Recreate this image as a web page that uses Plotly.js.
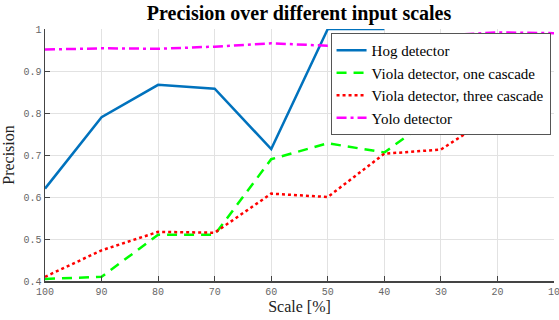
<!DOCTYPE html>
<html><head><meta charset="utf-8">
<script src="https://cdn.plot.ly/plotly-3.0.1.min.js"></script>
<style>body{margin:0;padding:0;background:#fff}#chart{width:559px;height:320px}</style>
</head><body><div id="chart"></div>
<script>
const scales = [100, 90, 80, 70, 60, 50, 40, 30, 20, 10];
const hog = [0.62, 0.79, 0.867, 0.858, 0.714, 1.0, 1.0, null, null, null];
const violaOne = [0.405, 0.41, 0.51, 0.51, 0.69, 0.728, 0.706, 0.804, 0.752, null];
const violaThree = [0.41, 0.473, 0.517, 0.515, 0.608, 0.60, 0.703, 0.713, 0.80, null];
const yolo = [0.951, 0.954, 0.953, 0.958, 0.966, 0.96, 0.972, 0.984, 0.992, 0.99];
const names = ["Hog detector", "Viola detector, one cascade", "Viola detector, three cascade", "Yolo detector"];
const xTicks = [100, 90, 80, 70, 60, 50, 40, 30, 20, 10];
const yTicks = [0.4, 0.5, 0.6, 0.7, 0.8, 0.9, 1];
const yTickText = ["0.4", "0.5", "0.6", "0.7", "0.8", "0.9", "1"];

const series = [
  {y: hog, color: '#0072BD', dash: 'solid'},
  {y: violaOne, color: '#00FF00', dash: '10px,7px'},
  {y: violaThree, color: '#FF0000', dash: 'dot'},
  {y: yolo, color: '#FF00FF', dash: '10px,4px,3px,4px'}
];
const traces = series.map((s, i) => ({
  x: scales, y: s.y, name: names[i], type: 'scatter', mode: 'lines',
  line: {color: s.color, width: 2.5, dash: s.dash}, connectgaps: false
}));

const serif = 'Liberation Serif';
const tickFont = {family: 'Liberation Mono', size: 10, color: '#666'};
const layout = {
  width: 559, height: 320,
  margin: {l: 45, r: 5, t: 29, b: 39},
  paper_bgcolor: '#fff', plot_bgcolor: '#fff',
  title: {text: '<b>Precision over different input scales</b>', x: 0.535, xanchor: 'center', y: 0.958, yanchor: 'middle',
    font: {family: serif, size: 20, color: '#000'}},
  xaxis: {range: [100, 10], tickvals: xTicks, ticktext: xTicks.map(String),
    showgrid: true, gridcolor: '#e2e2e2', gridwidth: 1, zeroline: false,
    showline: true, linecolor: '#444', linewidth: 1.5, ticks: 'inside', ticklen: 5, tickcolor: '#444',
    tickfont: tickFont, automargin: false, ticklabeloverflow: 'allow',
    title: {text: 'Scale [%]', font: {family: serif, size: 16, color: '#222'}, standoff: 4}},
  yaxis: {range: [0.4, 1], tickvals: yTicks, ticktext: yTickText,
    showgrid: true, gridcolor: '#e2e2e2', gridwidth: 1, zeroline: false,
    showline: true, linecolor: '#444', linewidth: 1.5, ticks: 'inside', ticklen: 5, tickcolor: '#444',
    tickfont: tickFont, automargin: false, ticklabeloverflow: 'allow',
    title: {text: 'Precision', font: {family: serif, size: 16, color: '#222'}, standoff: 14}},
  legend: {x: 0.561, y: 0.984, xanchor: 'left', yanchor: 'top',
    bgcolor: '#fff', bordercolor: '#555', borderwidth: 1,
    font: {family: serif, size: 15, color: '#000'},
    tracegroupgap: 0, itemwidth: 30},
  showlegend: true
};
Plotly.newPlot('chart', traces, layout, {displayModeBar: false, staticPlot: true});
</script></body></html>
